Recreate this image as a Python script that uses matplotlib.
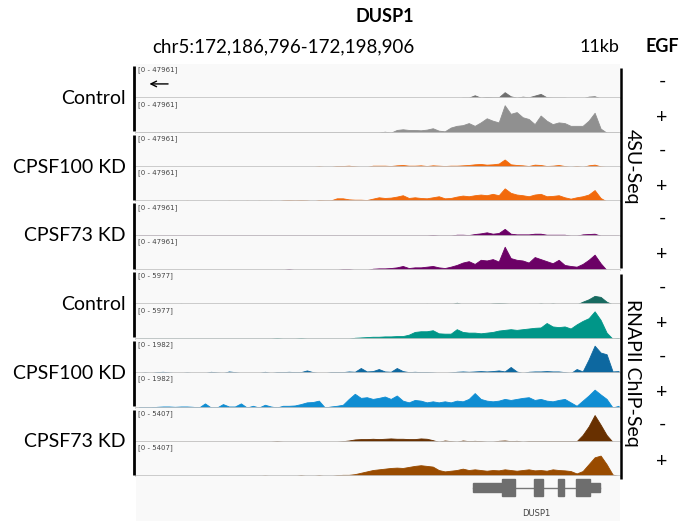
import numpy as np
import matplotlib
matplotlib.use('Agg')
import matplotlib.pyplot as plt
from matplotlib.patches import Rectangle

# region chr5:172,186,796-172,198,906, signal in 150 bp bins (% of track range)
region_start = 172186796
region_end = 172198906
bin_size = 150

ctrl_4su_minus = [0, 0, 0, 0, 0, 0, 0, 0, 0, 0, 0, 0, 0, 0, 0, 0, 0, 0, 0, 0,
                  0, 0, 0, 0, 0, 0, 0, 0, 0, 0, 0, 0, 0, 0, 0, 0, 0, 0, 0, 0,
                  0, 0, 0, 0, 0, 0, 0, 0, 0, 0, 0, 0, 0, 0, 2, 2, 9, 2, 4, 3,
                  3, 18, 6, 2, 5, 3, 8, 13, 3, 2, 2, 2, 0, 0, 0, 5, 6, 0, 0, 0, 0]
ctrl_4su_plus = [0, 0, 0, 0, 0, 0, 0, 0, 0, 0, 0, 0, 0, 0, 0, 0, 0, 0, 0, 0,
                 0, 0, 0, 0, 0, 0, 0, 0, 0, 0, 0, 0, 0, 0, 0, 0, 0, 0, 0, 0,
                 0, 3, 0, 8, 10, 8, 8, 7, 9, 13, 6, 4, 15, 20, 22, 28, 20, 30, 42, 35,
                 30, 80, 55, 60, 45, 40, 25, 50, 35, 25, 30, 28, 20, 20, 20, 35, 58, 12, 0, 0, 0]
kd100_4su_minus = [0, 0, 0, 0, 0, 0, 0, 0, 0, 0, 0, 0, 0, 0, 0, 0, 0, 0, 0, 0,
                   0, 0, 0, 0, 0, 0, 0, 0, 0, 0, 2, 0, 0, 3, 3, 4, 2, 0, 0, 4,
                   4, 4, 3, 5, 6, 4, 4, 5, 3, 5, 4, 3, 4, 4, 5, 6, 8, 9, 7, 8,
                   10, 22, 8, 6, 5, 3, 7, 6, 3, 4, 6, 3, 0, 3, 0, 5, 7, 2, 0, 0, 0]
kd100_4su_plus = [0, 0, 0, 0, 0, 0, 0, 0, 2, 0, 0, 0, 0, 0, 0, 2, 0, 0, 2, 0,
                  2, 0, 2, 0, 3, 4, 3, 4, 3, 0, 4, 3, 3, 9, 9, 6, 5, 5, 4, 8,
                  12, 10, 11, 14, 18, 10, 12, 10, 9, 12, 15, 9, 10, 14, 17, 15, 18, 20, 18, 22,
                  18, 38, 25, 20, 18, 15, 20, 22, 15, 16, 18, 12, 8, 12, 15, 20, 33, 10, 0, 0, 0]
kd73_4su_minus = [0, 0, 0, 0, 0, 0, 0, 0, 0, 0, 0, 0, 0, 0, 0, 0, 0, 0, 0, 0,
                  0, 0, 0, 0, 0, 0, 0, 0, 0, 0, 0, 0, 0, 0, 0, 0, 0, 0, 0, 0,
                  0, 0, 0, 0, 0, 0, 0, 0, 0, 2, 0, 0, 0, 3, 3, 2, 5, 7, 10, 6,
                  8, 20, 6, 4, 4, 4, 6, 6, 3, 3, 3, 3, 0, 0, 4, 5, 6, 0, 0, 0, 0]
kd73_4su_plus = [0, 0, 0, 0, 0, 0, 0, 0, 0, 0, 0, 0, 0, 0, 0, 0, 0, 0, 0, 0,
                 0, 0, 0, 0, 0, 3, 0, 0, 0, 0, 0, 0, 0, 0, 3, 3, 0, 0, 0, 4,
                 5, 5, 6, 8, 12, 6, 8, 8, 10, 12, 8, 6, 10, 15, 22, 26, 18, 30, 28, 32,
                 25, 68, 35, 30, 28, 22, 38, 32, 26, 20, 30, 15, 12, 10, 18, 30, 45, 20, 0, 0, 0]
ctrl_chip_minus = [0, 0, 0, 0, 0, 0, 0, 2, 0, 0, 0, 0, 0, 0, 0, 0, 0, 0, 0, 0,
                   0, 0, 0, 0, 0, 0, 0, 0, 0, 0, 0, 0, 0, 0, 0, 0, 0, 0, 0, 0,
                   0, 0, 0, 0, 0, 0, 0, 0, 2, 0, 0, 0, 0, 5, 0, 0, 0, 0, 0, 3,
                   4, 3, 1, 0, 0, 0, 0, 3, 0, 3, 0, 0, 0, 0, 8, 15, 25, 22, 8, 0, 0]
ctrl_chip_plus = [0, 0, 0, 0, 0, 0, 0, 0, 0, 0, 0, 0, 0, 0, 0, 0, 0, 0, 0, 0,
                  0, 0, 0, 2, 0, 0, 0, 2, 0, 0, 0, 0, 0, 0, 0, 0, 3, 4, 5, 6,
                  6, 7, 7, 8, 8, 12, 20, 22, 22, 25, 16, 15, 15, 28, 20, 18, 18, 16, 18, 20,
                  24, 26, 28, 26, 28, 30, 32, 33, 46, 36, 34, 36, 30, 42, 52, 60, 80, 55, 18, 0, 2]
kd100_chip_minus = [0, 2, 0, 3, 4, 2, 0, 0, 2, 0, 0, 0, 4, 2, 0, 5, 3, 0, 0, 0,
                    0, 4, 0, 3, 3, 4, 3, 3, 8, 3, 0, 0, 3, 3, 3, 5, 4, 15, 5, 6,
                    12, 5, 4, 15, 6, 3, 4, 3, 3, 2, 0, 0, 2, 4, 5, 4, 5, 6, 5, 6,
                    8, 5, 18, 5, 0, 4, 5, 5, 6, 5, 5, 3, 0, 12, 5, 40, 80, 60, 55, 5, 6]
kd100_chip_plus = [0, 0, 0, 2, 3, 3, 2, 3, 3, 2, 0, 12, 0, 0, 10, 3, 3, 12, 0, 5,
                   0, 8, 3, 0, 5, 5, 6, 10, 15, 16, 20, 0, 3, 5, 8, 25, 40, 28, 30, 25,
                   28, 32, 25, 35, 20, 15, 22, 20, 15, 18, 15, 18, 15, 20, 18, 25, 42, 25, 20, 18,
                   20, 25, 22, 25, 28, 30, 22, 25, 20, 18, 22, 25, 15, 5, 20, 35, 52, 38, 25, 0, 5]
kd73_chip_minus = [0, 0, 0, 0, 0, 0, 0, 0, 0, 0, 0, 0, 0, 0, 0, 0, 0, 0, 0, 0,
                   0, 0, 0, 2, 0, 0, 0, 0, 0, 0, 0, 0, 0, 0, 2, 4, 7, 8, 8, 9,
                   8, 9, 10, 9, 9, 8, 8, 10, 9, 5, 0, 4, 2, 0, 4, 2, 3, 2, 0, 0,
                   3, 4, 2, 3, 0, 2, 2, 2, 2, 2, 2, 2, 2, 2, 20, 45, 78, 50, 20, 0, 0]
kd73_chip_plus = [0, 0, 0, 0, 0, 0, 0, 0, 0, 0, 0, 0, 0, 0, 0, 0, 0, 0, 0, 0,
                  0, 2, 0, 0, 0, 0, 0, 3, 0, 0, 3, 0, 0, 3, 4, 4, 6, 10, 14, 18,
                  20, 22, 24, 25, 24, 27, 30, 32, 30, 28, 18, 14, 16, 18, 22, 18, 20, 18, 16, 18,
                  17, 20, 18, 16, 18, 20, 17, 18, 16, 20, 18, 17, 15, 8, 15, 35, 55, 60, 35, 5, 0]

tracks = [ctrl_4su_minus, ctrl_4su_plus, kd100_4su_minus, kd100_4su_plus,
          kd73_4su_minus, kd73_4su_plus, ctrl_chip_minus, ctrl_chip_plus,
          kd100_chip_minus, kd100_chip_plus, kd73_chip_minus, kd73_chip_plus]
track_ranges = ['47961'] * 6 + ['5977', '5977', '1982', '1982', '5407', '5407']
track_colors = ['#6f6f6f', '#909090', '#f26a0c', '#f26a0c', '#6c0066', '#6c0066',
                '#176a60', '#009688', '#0d68a0', '#0f8dd2', '#683000', '#994b00']
egf = ['-', '+'] * 6
conditions = ['Control', 'CPSF100 KD', 'CPSF73 KD'] * 2
assays = ['4SU-Seq', 'RNAPII ChIP-Seq']

# DUSP1 gene model (offsets in kb from region start), thick = coding
gene_blocks = [(8.43, 9.16, False), (9.16, 9.48, True), (9.96, 10.18, True),
               (10.56, 10.71, True), (11.01, 11.36, True), (11.36, 11.61, False)]
gene_span = (8.43, 11.61)

# ---- layout (pixels) ----
W, H = 683, 523
fig = plt.figure(figsize=(W / 100, H / 100), dpi=100)
left_px, right_px = 136, 620
top_px, trk_h = 64, 34.35
region_kb = (region_end - region_start) / 1000
xs = (np.arange(len(ctrl_4su_minus)) * bin_size + bin_size / 2) / 1000

font = 'Lato'

def px_axes(x0, y0, x1, y1):
    return fig.add_axes([x0 / W, 1 - y1 / H, (x1 - x0) / W, (y1 - y0) / H])

for i, vals in enumerate(tracks):
    y0 = top_px + i * trk_h
    ax = px_axes(left_px, y0, right_px, y0 + trk_h)
    ax.set_facecolor('#f9f9f9')
    ax.fill_between(xs, 0, vals, color=track_colors[i], lw=0.6, edgecolor=track_colors[i])
    ax.set_xlim(0, region_kb)
    ax.set_ylim(0, 100)
    ax.set_xticks([])
    ax.set_yticks([])
    for s in ['top', 'left', 'right']:
        ax.spines[s].set_visible(False)
    ax.spines['bottom'].set_color('#c4c4c4')
    ax.spines['bottom'].set_linewidth(1.2)
    ax.text(0.005, 0.93, '[0 - %s]' % track_ranges[i], transform=ax.transAxes,
            fontsize=5, color='#444444', va='top', ha='left', family='DejaVu Sans')
    if i == 0:
        ax.annotate('', xy=(0.022, 0.42), xytext=(0.072, 0.42), xycoords='axes fraction',
                    arrowprops=dict(arrowstyle='->', color='black', lw=1.0))

# gene track
gy0 = top_px + 12 * trk_h
gax = px_axes(left_px, gy0, right_px, 521)
gax.set_facecolor('#f9f9f9')
gax.set_xlim(0, region_kb)
gax.set_ylim(0, 1)
gax.axis('off')
gax.add_patch(Rectangle((0, 0), 1, 1, transform=gax.transAxes, color='#f9f9f9', zorder=0))
gax.plot(gene_span, [0.74, 0.74], color='#777777', lw=1, zorder=1)
for s, e, thick in gene_blocks:
    h = 0.38 if thick else 0.2
    gax.add_patch(Rectangle((s, 0.74 - h / 2), e - s, h, color='#6e6e6e', zorder=2))
gax.text(sum(gene_span) / 2, 0.17, 'DUSP1', fontsize=6, color='#444444',
         ha='center', va='center', family='DejaVu Sans')

# overlay for labels and brackets
ov = fig.add_axes([0, 0, 1, 1])
ov.set_xlim(0, W)
ov.set_ylim(H, 0)
ov.axis('off')
ov.patch.set_alpha(0)

ov.text(385, 17, 'DUSP1', fontsize=13, fontweight='bold', ha='center', va='center', family=font)
ov.text(152, 47, 'chr5:172,186,796-172,198,906', fontsize=13.5, ha='left', va='center', family=font)
ov.text(619, 47, '11kb', fontsize=13, ha='right', va='center', family=font)
ov.text(662, 47, 'EGF', fontsize=13, fontweight='bold', ha='center', va='center', family=font)

for k in range(6):
    ya = top_px + 2 * k * trk_h
    yb = ya + 2 * trk_h
    ov.plot([133.5, 133.5], [ya + 2, yb - 1.5], color='black', lw=2, solid_capstyle='butt')
    ov.text(126, (ya + yb) / 2, conditions[k], fontsize=14, ha='right', va='center', family=font)

for i in range(12):
    yc = top_px + (i + 0.5) * trk_h
    ov.text(662, yc + (2 if egf[i] == '+' else 0), egf[i], fontsize=14,
            ha='center', va='center', family=font)

for k in range(2):
    ya = top_px + 6 * k * trk_h
    yb = ya + 6 * trk_h
    ov.plot([621, 621], [ya + 4, yb - (2 if k == 0 else -3)], color='black', lw=1.8,
            solid_capstyle='butt')
    ov.text(632, (ya + yb) / 2, assays[k], fontsize=14, rotation=270,
            ha='center', va='center', family=font)

fig.savefig('out.png', dpi=100)
